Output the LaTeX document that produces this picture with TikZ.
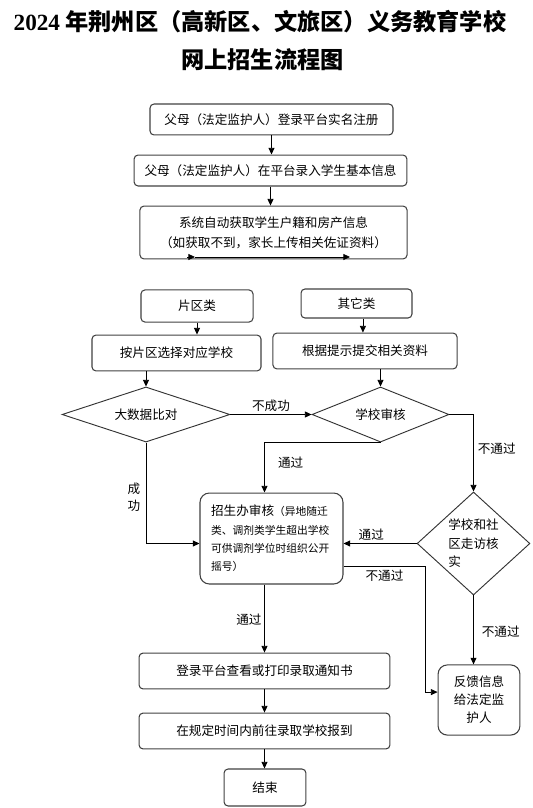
\documentclass[tikz,border=0pt]{standalone}
\usepackage{fontspec}
\setmainfont{Noto Sans CJK SC}
\newfontfamily\titlenum{Liberation Serif}
\usetikzlibrary{arrows.meta,shapes.geometric}

\begin{document}
\begin{tikzpicture}[x=0.0265cm,y=-0.0265cm,
  box/.style={draw=black!75,line width=0.8pt,rounded corners=3pt,align=center,inner sep=0pt,font=\fontsize{9.5}{15}\selectfont},
  bigbox/.style={box,rounded corners=7pt},
  judge/.style={draw=black!80,line width=0.7pt,diamond,aspect=1,inner sep=0pt,font=\fontsize{9.5}{14}\selectfont},
  flatjudge/.style={judge,aspect=3},
  arr/.style={-{Triangle[length=5pt,width=4.5pt]},line width=0.6pt},
  lbl/.style={font=\fontsize{9.5}{13}\selectfont,inner sep=0pt,align=center}]
\useasboundingbox (0,0) rectangle (533,808);
\node[font=\fontsize{17.5}{20}\selectfont\bfseries] (title1) at (260,22) {{\titlenum 2024} 年荆州区（高新区、文旅区）义务教育学校};
\node[font=\fontsize{17.5}{20}\selectfont\bfseries] (title2) at (262.5,60) {网上招生流程图};
\node[box,minimum width=6.44cm,minimum height=0.82cm] (reg) at (271.5,119.5) {父母（法定监护人）登录平台实名注册};
\node[box,minimum width=7.23cm,minimum height=0.82cm] (input) at (270.5,170.5) {父母（法定监护人）在平台录入学生基本信息};
\node[box,minimum width=7.08cm,minimum height=1.40cm] (fetch) at (273.5,232.5) {系统自动获取学生户籍和房产信息\\（如获取不到，家长上传相关佐证资料）};
\coordinate (f1) at (187,257);
\coordinate (f2) at (195,257);
\coordinate (f3) at (350,257);
\node[box,minimum width=2.97cm,minimum height=0.85cm] (zone) at (197,306) {片区类};
\node[box,minimum width=2.94cm,minimum height=0.77cm] (other) at (356.5,303.5) {其它类};
\node[box,minimum width=4.48cm,minimum height=0.95cm] (pick) at (176.5,353) {按片区选择对应学校};
\node[box,minimum width=4.88cm,minimum height=0.95cm] (submit) at (365,351) {根据提示提交相关资料};
\node[flatjudge,minimum width=4.45cm,minimum height=1.46cm] (match) at (146,414.5) {大数据比对};
\node[flatjudge,minimum width=3.63cm,minimum height=1.46cm] (check) at (380.5,414.5) {学校审核};
\node[bigbox,minimum width=3.79cm,minimum height=2.41cm,text width=3.2cm,align=left,font=\fontsize{8.1}{13.9}\selectfont] (office) at (271.5,538.5) {{\fontsize{9.5}{13.9}\selectfont 招生办审核}（异地随迁\\类、调剂类学生超出学校\\可供调剂学位时组织公开\\摇号）};
\node[judge,minimum width=2.99cm,minimum height=2.73cm,align=left] (visit) at (473.5,543.5) {学校和社\\区走访核\\实};
\node[bigbox,minimum width=2.17cm,minimum height=1.86cm,font=\fontsize{9.5}{13.5}\selectfont] (feedback) at (479,700) {反馈信息\\给法定监\\护人};
\node[box,minimum width=6.65cm,minimum height=0.95cm] (notice) at (264.5,671) {登录平台查看或打印录取通知书};
\node[box,minimum width=6.65cm,minimum height=0.95cm] (report) at (264.5,731) {在规定时间内前往录取学校报到};
\node[box,minimum width=2.17cm,minimum height=0.98cm] (end) at (265,787.5) {结束};
\draw[arr] (reg.south) -- (reg.south |- input.north);
\draw[arr] (input.south) -- (input.south |- fetch.north);
\draw[arr] (f1) -- (f2);
\draw[arr] (f2) -- (f3);
\draw[arr] (zone.south) -- (zone.south |- pick.north);
\draw[arr] ([xshift=0.17cm]other.south) -- ([xshift=0.17cm]other.south |- submit.north);
\draw[arr] (pick.south -| match.north) -- (match.north);
\draw[arr] (submit.south -| check.north) -- (check.north);
\draw[arr] (match.east) -- node[lbl,above=2pt] {不成功} (check.west);
\draw[arr] (check.east) -| node[lbl,pos=0.72,right=3pt] {不通过} (visit.north);
\draw[arr] (check.south) -| node[lbl,pos=0.7,right=0.35cm] {通过} (notice.north |- office.north);
\draw[arr] (match.south) |- node[lbl,pos=0.27,left=4pt] {成\\功} (visit.west -| office.west);
\draw[arr] (visit.west) -- node[lbl,pos=0.62,above=2pt] {通过} (visit.west -| office.east);
\draw[arr] ([yshift=-0.73cm]office.east) -- node[lbl,below=3pt] {不通过} ++(2.17cm,0) |- ([yshift=0.21cm]feedback.west);
\draw[arr] (visit.south) -- node[lbl,pos=0.53,right=6pt] {不通过} (visit.south |- feedback.north);
\draw[arr] (notice.north |- office.south) -- node[lbl,pos=0.52,left=2pt] {通过} (notice.north);
\draw[arr] (notice.south) -- (notice.south |- report.north);
\draw[arr] (report.south) -- (report.south |- end.north);
\end{tikzpicture}
\end{document}
